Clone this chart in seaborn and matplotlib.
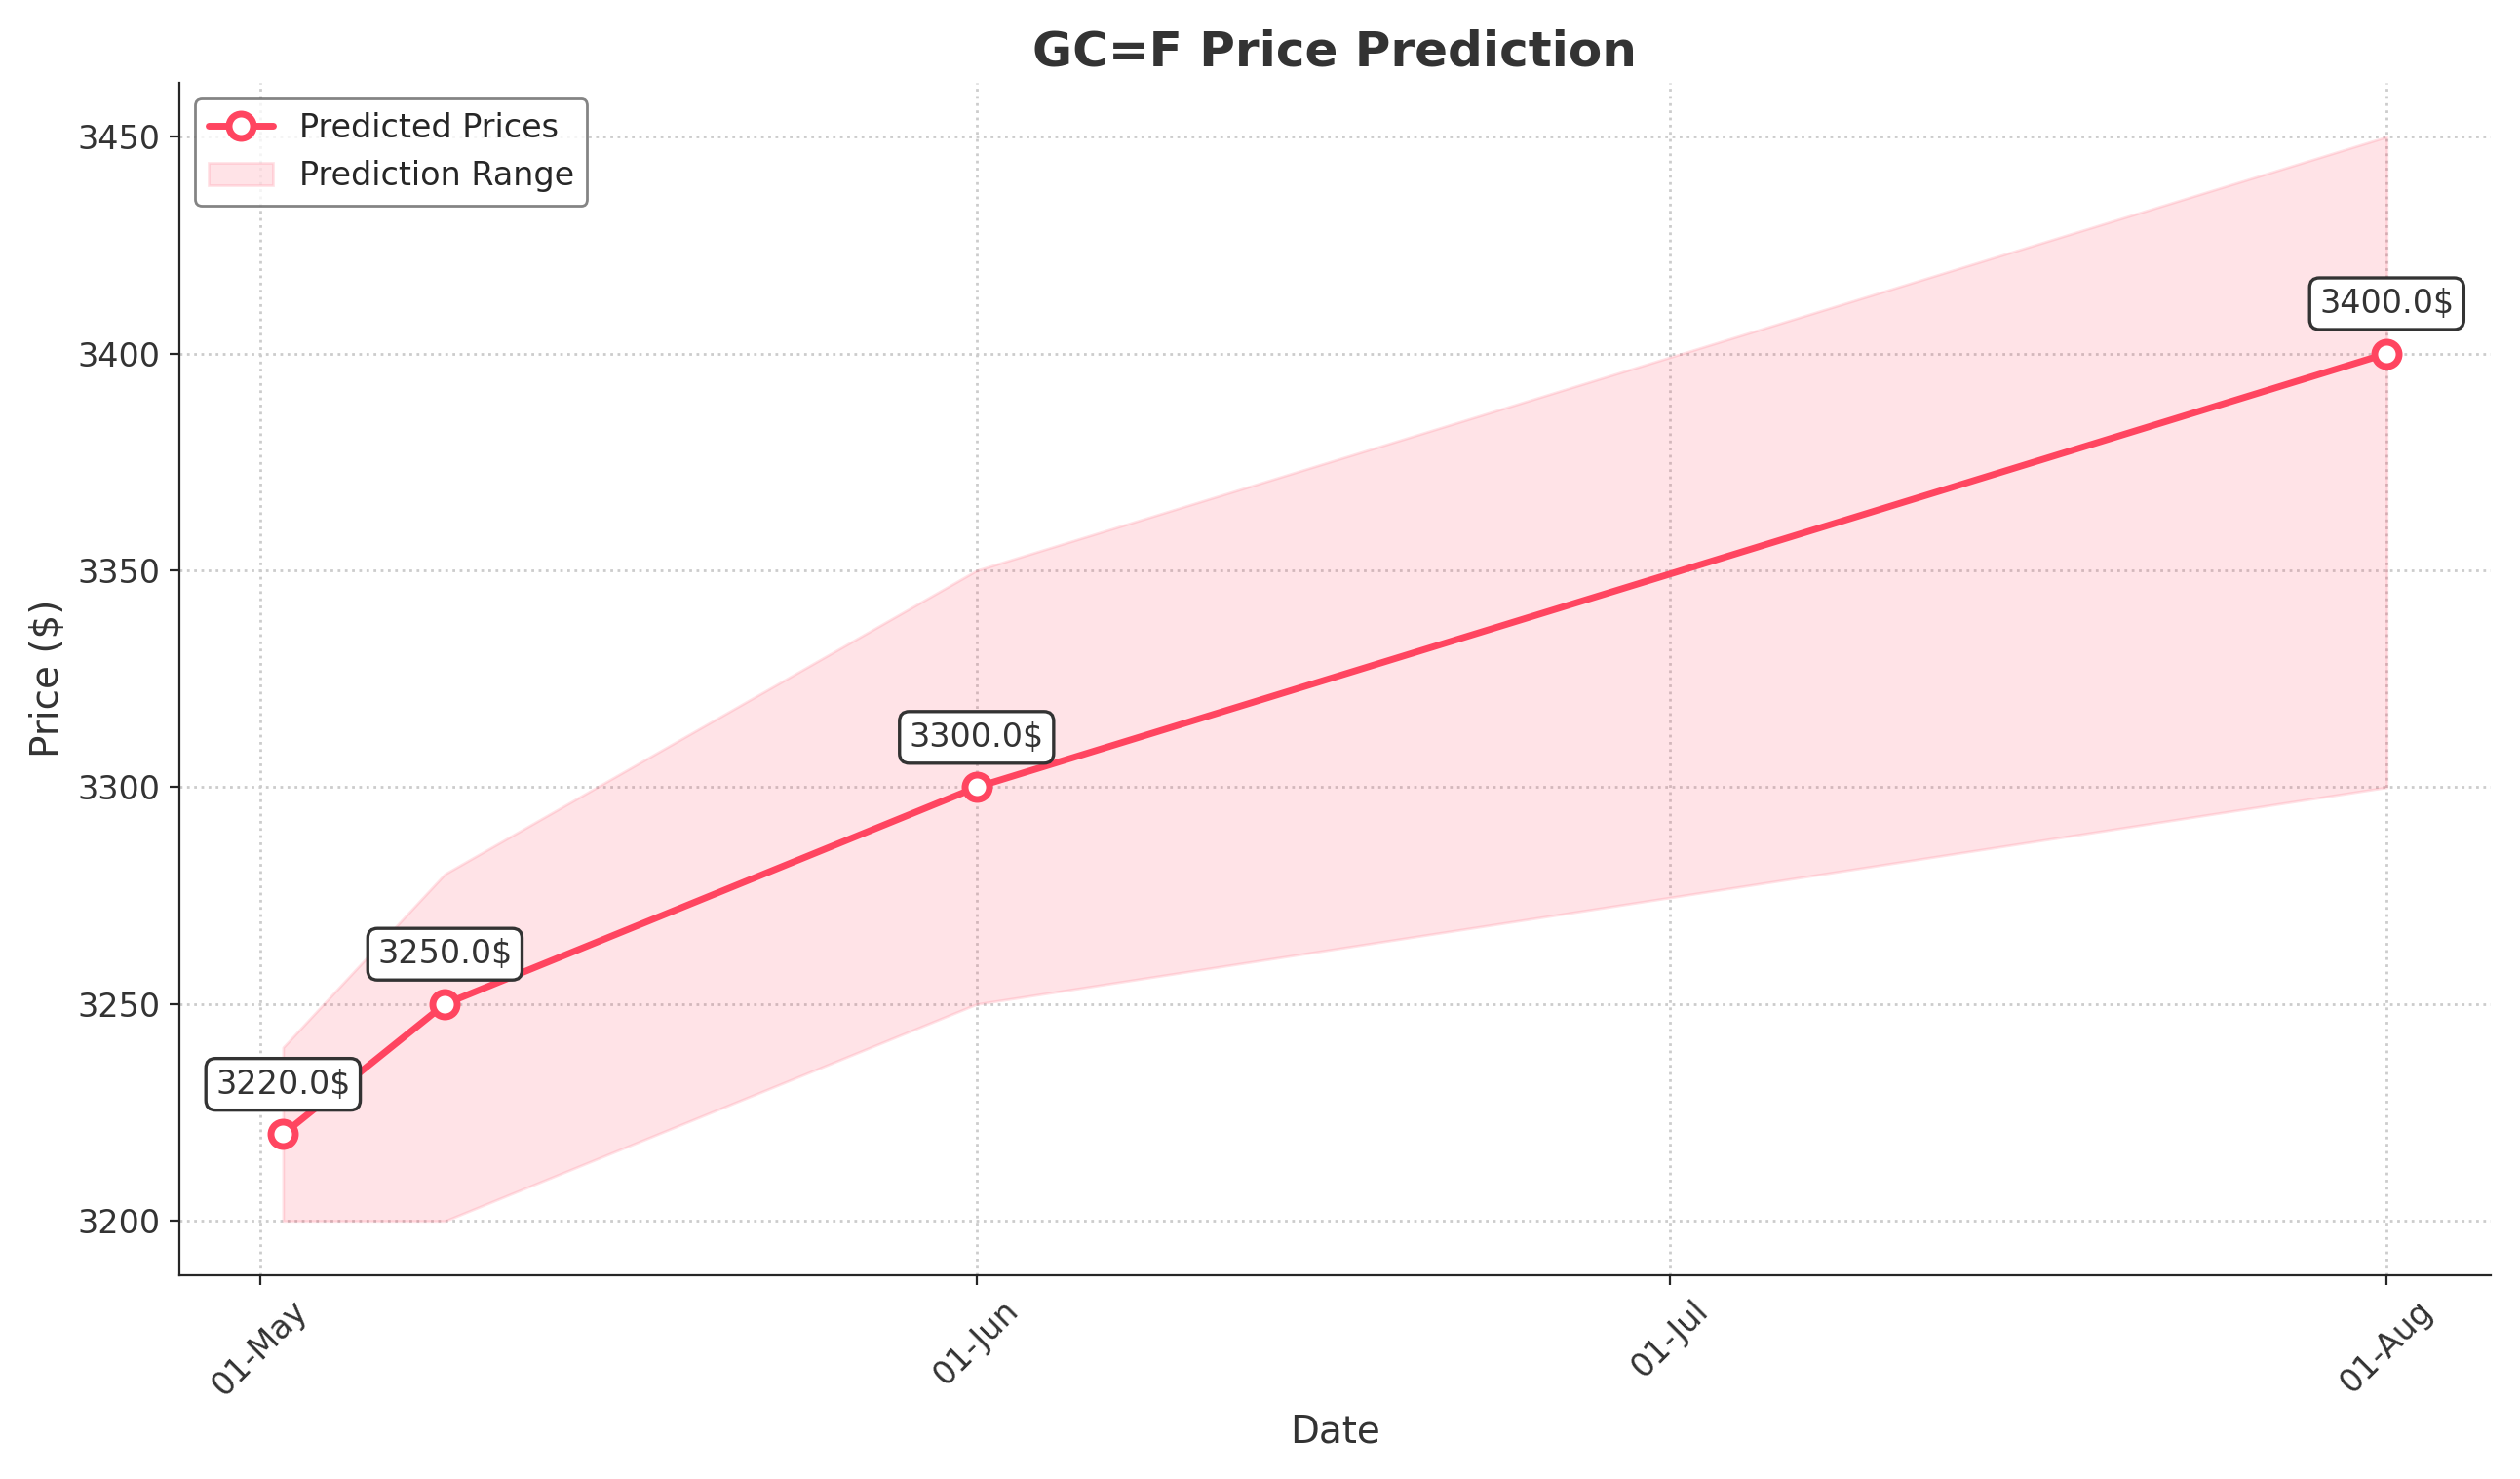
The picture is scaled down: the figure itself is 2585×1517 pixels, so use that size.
import matplotlib
matplotlib.use("Agg")
import matplotlib.pyplot as plt
import matplotlib.dates as mdates
import seaborn as sns
import pandas as pd

dates = ["2025-05-02", "2025-05-09", "2025-06-01", "2025-08-01"]
predicted = [3220.0, 3250.0, 3300.0, 3400.0]
lower = [3200, 3200, 3250, 3300]
upper = [3240, 3280, 3350, 3450]

df = pd.DataFrame({"Date": pd.to_datetime(dates), "Price": predicted, "lo": lower, "hi": upper})

sns.set_style("ticks")
fig, ax = plt.subplots(figsize=(12.925, 7.585), dpi=200)
color = "#ff4560"
ax.fill_between(df["Date"], df["lo"], df["hi"], color=color, alpha=0.15, label="Prediction Range")
sns.lineplot(data=df, x="Date", y="Price", ax=ax, color=color, linewidth=2.5, marker="o",
             markersize=9, markerfacecolor="white", markeredgecolor=color, markeredgewidth=2.5,
             label="Predicted Prices")
for d, p in zip(df["Date"], df["Price"]):
    ax.annotate(f"{p}$", (d, p), xytext=(0, 15), textcoords="offset points", ha="center",
                fontsize=12, color="#333333",
                bbox=dict(boxstyle="round,pad=0.3", fc="white", ec="#333333", lw=1.2))
ax.xaxis.set_major_locator(mdates.MonthLocator())
ax.xaxis.set_major_formatter(mdates.DateFormatter("%d-%b"))
plt.setp(ax.get_xticklabels(), rotation=45, fontsize=12, color="#333333")
plt.setp(ax.get_yticklabels(), fontsize=12, color="#333333")
ax.set_title("GC=F Price Prediction", fontsize=18, fontweight="bold", color="#333333")
ax.set_xlabel("Date", fontsize=14, color="#333333")
ax.set_ylabel("Price ($)", fontsize=14, color="#333333")
ax.grid(True, linestyle=":", color="#cccccc", linewidth=1)
sns.despine(ax=ax)
h, l = ax.get_legend_handles_labels()
order = [l.index("Predicted Prices"), l.index("Prediction Range")]
ax.legend([h[i] for i in order], [l[i] for i in order], loc="upper left", fontsize=12,
          frameon=True, edgecolor="#666666")
ax.set_xlim(pd.Timestamp("2025-04-27 12:00"), pd.Timestamp("2025-08-05 12:00"))
fig.tight_layout()
fig.savefig("out.png", dpi=200)
